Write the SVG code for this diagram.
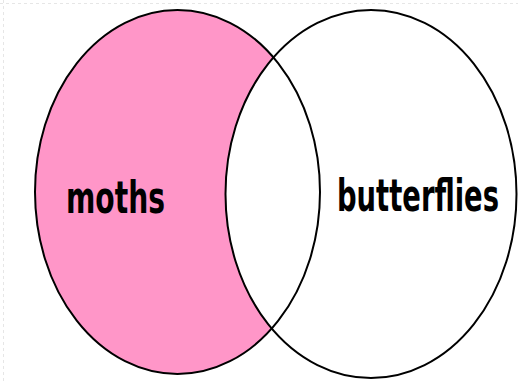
<svg xmlns="http://www.w3.org/2000/svg" width="518" height="381" viewBox="0 0 518 381">
  <style>
    .outline { fill: none; stroke: #000; stroke-width: 2; }
    .label { font-family: "DejaVu Sans Condensed", "DejaVu Sans", "Liberation Sans", sans-serif; font-weight: bold; font-size: 45px; fill: #000; }
    .edge { stroke: #e6e6e6; stroke-width: 1; stroke-dasharray: 3 3; }
  </style>
  <rect width="518" height="381" fill="#fff"/>
  <line class="edge" x1="0" y1="3.5" x2="518" y2="3.5"/>
  <line class="edge" x1="3.5" y1="0" x2="3.5" y2="381"/>
  <g id="moths">
    <ellipse cx="177.5" cy="192" rx="142.5" ry="182" fill="#ff96c8"/>
  </g>
  <g id="butterflies">
    <ellipse cx="371" cy="194" rx="145.5" ry="184" fill="#fff"/>
  </g>
  <g id="outlines">
    <ellipse class="outline" cx="177.5" cy="192" rx="142.5" ry="182"/>
    <ellipse class="outline" cx="371" cy="194" rx="145.5" ry="184"/>
  </g>
  <g id="labels">
    <text class="label" transform="translate(66,213) scale(0.7,1)" x="0" y="0" textLength="141.4" lengthAdjust="spacingAndGlyphs">moths</text>
    <text class="label" transform="translate(337,211) scale(0.7,1)" x="0" y="0" textLength="231.4" lengthAdjust="spacingAndGlyphs">butterflies</text>
  </g>
</svg>
